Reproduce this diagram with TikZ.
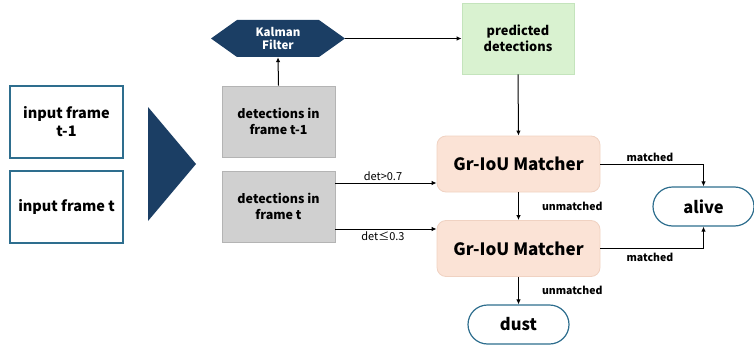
\documentclass[tikz,border=0pt]{standalone}
\usepackage{fontspec}
\setmainfont{Noto Sans CJK JP}
\usetikzlibrary{arrows.meta,shapes.misc}
\definecolor{navy}{HTML}{1B3E64}
\definecolor{edgeblue}{HTML}{2E6E8E}
\definecolor{grayfill}{HTML}{D0D0D0}
\definecolor{grayline}{HTML}{B4B4B4}
\definecolor{greenfill}{HTML}{D9F2D0}
\definecolor{greenline}{HTML}{C4E4BC}
\definecolor{peach}{HTML}{FBE3D6}
\definecolor{peachline}{HTML}{F0D2C2}
\tikzset{
  inbox/.style={draw=edgeblue, line width=1.2pt, fill=white, minimum width=113pt, minimum height=72pt, inner sep=0pt, align=center, font=\fontsize{14.5}{18}\selectfont\bfseries},
  detbox/.style={draw=grayline, line width=0.8pt, fill=grayfill, minimum width=113pt, minimum height=71pt, inner sep=0pt, align=center, font=\fontsize{12.5}{16}\selectfont\bfseries},
  predbox/.style={draw=greenline, line width=0.8pt, fill=greenfill, minimum width=112pt, minimum height=71pt, inner sep=0pt, align=center, font=\fontsize{12.8}{16}\selectfont\bfseries},
  matchbox/.style={draw=peachline, line width=0.8pt, fill=peach, rounded corners=9pt, minimum width=163pt, minimum height=56pt, inner sep=0pt, font=\fontsize{17}{19}\selectfont\bfseries},
  endbox/.style={draw=edgeblue, line width=1.2pt, fill=white, rounded rectangle, minimum width=101pt, minimum height=39pt, inner sep=0pt, font=\fontsize{16.5}{18}\selectfont\bfseries},
  lab/.style={font=\fontsize{10.5}{12}\selectfont\bfseries, inner sep=1pt},
  deflab/.style={font=\fontsize{11}{12}\selectfont, inner sep=1pt},
  conn/.style={line width=1pt, -{Latex[length=5pt,width=4.5pt]}},
}
\begin{document}
\begin{tikzpicture}[x=1pt,y=-1pt]
\useasboundingbox (0,0) rectangle (754,345);
% input frames
\node[inbox] (in1) at (66.5,122) {input frame\\t-1};
\node[inbox] (in2) at (66.5,207) {input frame t};
% big triangle
\fill[navy] (148,107) -- (196,164) -- (148,221) -- cycle;
% Kalman filter hexagon
\fill[navy] (211,38.5) -- (237,20) -- (319,20) -- (345,38.5) -- (319,57) -- (237,57) -- cycle;
\node[text=white, align=center, font=\fontsize{11.5}{13}\selectfont\bfseries, minimum width=134pt, minimum height=37pt, inner sep=0pt] (kf) at (278,38.5) {Kalman\\Filter};
% detections
\node[detbox] (d1) at (278.5,121.5) {detections in\\frame t-1};
\node[detbox] (d2) at (278.5,206.5) {detections in\\frame t};
% predicted
\node[predbox] (pred) at (518,38.5) {predicted\\detections};
% matchers
\node[matchbox] (m1) at (518.5,164) {Gr-IoU Matcher};
\node[matchbox] (m2) at (518.5,248.5) {Gr-IoU Matcher};
% end states
\node[endbox] (alive) at (703.5,206.5) {alive};
\node[endbox] (dust) at (518.5,324.5) {dust};
% connectors
\draw[conn] (d1.north) -- (kf.south);
\draw[conn] (kf.east) -- (pred.west);
\draw[conn] (pred.south) -- (m1.north);
\draw[conn] (d2.east |- 0,183) -- node[deflab, above=1pt, pos=0.47] {det>0.7} (m1.west |- 0,183);
\draw[conn] (d2.east |- 0,229) -- node[deflab, below=1pt, pos=0.47] {det≤0.3} (m2.west |- 0,229);
\draw[conn] (m1.south) -- node[lab, right=22pt, pos=0.5] {unmatched} (m2.north);
\draw[conn] (m2.south) -- node[lab, right=22pt, pos=0.5] {unmatched} (dust.north);
\draw[conn] (m1.east) -- node[lab, above=1pt, pos=0.48] {matched} (m1.east -| alive.north) -- (alive.north);
\draw[conn] (m2.east) -- node[lab, below=3pt, pos=0.48] {matched} (m2.east -| alive.south) -- (alive.south);
\end{tikzpicture}
\end{document}
